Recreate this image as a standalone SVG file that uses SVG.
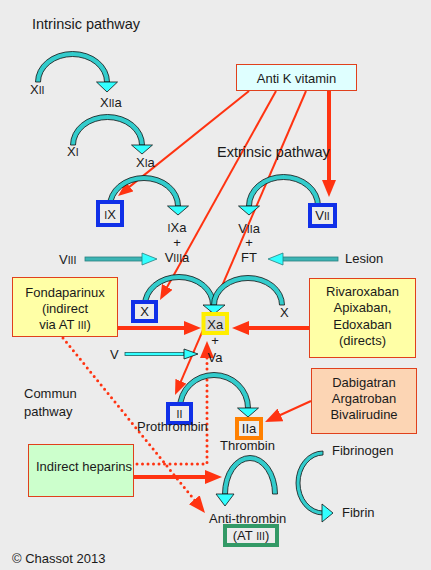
<svg xmlns="http://www.w3.org/2000/svg" width="431" height="570" viewBox="0 0 431 570">
<defs>
<style>
text{font-family:"Liberation Sans",Arial,sans-serif;font-size:13px;fill:#1a1a1a}
.h{font-size:14.5px}
.s{font-size:10.5px}
.c{text-anchor:middle}
.band{fill:#33cccc;stroke:#111;stroke-width:0.8}
.head{fill:#33ffff;stroke:#111;stroke-width:0.8}
.red{fill:none;stroke:#ff3311;stroke-width:2}
.redT{fill:none;stroke:#ff3311;stroke-width:4}
.dot{fill:none;stroke:#ff3311;stroke-width:3;stroke-linecap:round;stroke-dasharray:0 5.5}
.drug{stroke:#e0401c;stroke-width:1}
.fac{fill:#ececec;stroke-width:4}
.teal{fill:#3cb4b4;stroke:#2a8080;stroke-width:0.8}
.thead{fill:#33ffff;stroke:#2a8080;stroke-width:0.8}
</style>
<marker id="ah" markerUnits="userSpaceOnUse" markerWidth="15" markerHeight="12" viewBox="0 0 15 12" refX="10" refY="6" orient="auto"><path d="M0,0 L15,6 L0,12 Z" fill="#ff3311"/></marker>
<marker id="ahT" markerUnits="userSpaceOnUse" markerWidth="17" markerHeight="14" viewBox="0 0 17 14" refX="11" refY="7" orient="auto"><path d="M0,0 L17,7 L0,14 Z" fill="#ff3311"/></marker>
</defs>
<rect x="0" y="0" width="431" height="570" fill="#ececec"/>

<g id="connectors">
  <!-- red inhibition lines -->
  <line class="red" x1="249" y1="91" x2="121.9" y2="192.9" marker-end="url(#ah)"/>
  <line class="red" x1="276" y1="91" x2="162.4" y2="295.6" marker-end="url(#ah)"/>
  <line class="red" x1="306" y1="91" x2="177" y2="390.4" marker-end="url(#ah)"/>
  <line class="redT" stroke-width="3.5" x1="329" y1="91" x2="329" y2="191" marker-end="url(#ahT)"/>
  <line class="redT" x1="118" y1="328" x2="195" y2="328" marker-end="url(#ahT)"/>
  <line class="redT" x1="309" y1="328" x2="238" y2="328" marker-end="url(#ahT)"/>
  <line class="redT" x1="134" y1="477" x2="216" y2="477" marker-end="url(#ahT)"/>
  <line class="red" stroke-width="2.5" x1="311" y1="401" x2="270.5" y2="419.5" marker-end="url(#ahT)"/>
  <path class="dot" d="M137,464 H207 V347" marker-end="url(#ahT)"/>
  <path class="dot" d="M63,338 L201.2,508.3" marker-end="url(#ahT)"/>

  <!-- teal straight arrows -->
  <rect class="teal" x="85" y="257" width="58" height="4"/>
  <polygon class="thead" points="142,253 142,265 157,259"/>
  <rect class="teal" x="282" y="257" width="56" height="4"/>
  <polygon class="thead" points="283,253 283,265 268,259"/>
  <rect x="125" y="352.5" width="59" height="3" fill="#33ffff" stroke="#1d5f5f" stroke-width="0.8"/>
  <polygon class="head" points="184,349 184,359 198,354"/>

  <!-- activation arcs -->
  <path class="band" d="M35.5,82 A37,30.5 0 0 1 109.5,82 L104.5,82 A32,25.5 0 0 0 40.5,82 Z"/>
  <polygon class="head" points="96.5,82 117.5,82 107,92"/>
  <path class="band" d="M70.5,145 A37,30.5 0 0 1 144.5,145 L139.5,145 A32,25.5 0 0 0 75.5,145 Z"/>
  <polygon class="head" points="131.5,145 152.5,145 142,154"/>
  <path class="band" d="M107.5,206 A36.5,30.5 0 0 1 180.5,206 L175.5,206 A31.5,25.5 0 0 0 112.5,206 Z"/>
  <polygon class="head" points="167.5,206 188.5,206 178,215"/>
  <path class="band" d="M246.5,206 A37,31.5 0 0 1 320.5,206 L315.5,206 A32,26.5 0 0 0 251.5,206 Z"/>
  <polygon class="head" points="238.5,206 259.5,206 249,215"/>
  <path class="band" d="M142.5,305 A36.5,30.5 0 0 1 215.5,305 L210.5,305 A31.5,25.5 0 0 0 147.5,305 Z"/>
  <path class="band" d="M211.5,305 A36.5,29.5 0 0 1 284.5,305 L279.5,305 A31.5,24.5 0 0 0 216.5,305 Z"/>
  <polygon class="head" points="203,305 225,305 214,314"/>
  <path class="band" d="M177.5,408 A36.5,35.5 0 0 1 250.5,408 L245.5,408 A31.5,30.5 0 0 0 182.5,408 Z"/>
  <polygon class="head" points="237.5,408 258.5,408 248,417"/>
  <path class="band" d="M222.5,494 A27.5,38.5 0 0 1 277.5,494 L272.5,494 A22.5,33.5 0 0 0 227.5,494 Z"/>
  <polygon class="head" points="216,494 234,494 225,506"/>
  <path class="band" d="M323,451 A27,32 0 0 0 323,515 L323,511 A23,28 0 0 1 323,455 Z"/>
  <polygon class="head" points="322,504 322,522 333,513"/>
</g>

<g id="title-intrinsic"><text class="h" x="32" y="29">Intrinsic pathway</text></g>
<g id="title-extrinsic"><text class="h" x="217" y="157">Extrinsic pathway</text></g>
<g id="title-commun"><text font-size="14" x="24" y="398">Commun</text><text font-size="14" x="24" y="416">pathway</text></g>

<g id="node-antik">
  <rect class="drug" x="236.5" y="64.5" width="120" height="26" fill="#dfffff"/>
  <text class="c" x="296.5" y="83">Anti K vitamin</text>
</g>
<g id="node-XII"><text x="30" y="94">X<tspan class="s">II</tspan></text></g>
<g id="node-XIIa"><text x="100" y="107">X<tspan class="s">II</tspan>a</text></g>
<g id="node-XI"><text x="67" y="156">X<tspan class="s">I</tspan></text></g>
<g id="node-XIa"><text x="136" y="167">X<tspan class="s">I</tspan>a</text></g>
<g id="node-IX">
  <rect class="fac" x="98" y="202" width="24" height="23" stroke="#1030e8"/>
  <text class="c" x="110" y="219"><tspan class="s">I</tspan>X</text>
</g>
<g id="node-IXa-VIIIa">
  <text class="c" x="177" y="232"><tspan class="s">I</tspan>Xa</text>
  <text class="c" x="177" y="247">+</text>
  <text class="c" x="177" y="262">V<tspan class="s">III</tspan>a</text>
</g>
<g id="node-VIIa-FT">
  <text class="c" x="249" y="233">V<tspan class="s">II</tspan>a</text>
  <text class="c" x="249" y="247">+</text>
  <text class="c" x="249" y="262">FT</text>
</g>
<g id="node-VII">
  <rect class="fac" x="310" y="205" width="25" height="21" stroke="#1030e8"/>
  <text class="c" x="322.5" y="220">V<tspan class="s">II</tspan></text>
</g>
<g id="node-VIII"><text x="59" y="264">V<tspan class="s">III</tspan></text></g>
<g id="node-lesion"><text x="345" y="263">Lesion</text></g>
<g id="node-fondaparinux">
  <rect class="drug" x="12.5" y="277.5" width="105" height="59" fill="#ffffa6"/>
  <text class="c" x="65" y="297">Fondaparinux</text>
  <text class="c" x="65" y="313">(indirect</text>
  <text class="c" x="65" y="329">via AT <tspan class="s">III</tspan>)</text>
</g>
<g id="node-X">
  <rect class="fac" x="133" y="302" width="23" height="19" stroke="#1030e8"/>
  <text class="c" x="144.5" y="316">X</text>
</g>
<g id="node-Xa">
  <rect x="203.5" y="314" width="23.5" height="19" fill="#d9d9d9" stroke="#ffee00" stroke-width="4"/>
  <text class="c" x="215.3" y="328.5">Xa</text>
  <text class="c" x="215" y="345">+</text>
  <text class="c" x="215" y="362">Va</text>
</g>
<g id="node-X-right"><text x="280" y="317">X</text></g>
<g id="node-V"><text x="110" y="359">V</text></g>
<g id="node-rivaroxaban">
  <rect class="drug" x="309.5" y="278.5" width="106" height="79" fill="#ffffa6"/>
  <text class="c" x="362.5" y="296">Rivaroxaban</text>
  <text class="c" x="362.5" y="312">Apixaban,</text>
  <text class="c" x="362.5" y="329">Edoxaban</text>
  <text class="c" x="362.5" y="345">(directs)</text>
</g>
<g id="node-dabigatran">
  <rect class="drug" x="311.5" y="368.5" width="105" height="65" fill="#fcd5b4"/>
  <text class="c" x="364" y="387">Dabigatran</text>
  <text class="c" x="364" y="403">Argatroban</text>
  <text class="c" x="364" y="419">Bivalirudine</text>
</g>
<g id="node-II">
  <rect class="fac" x="168" y="404" width="23" height="19" stroke="#1030e8"/>
  <text class="c" x="179.5" y="418"><tspan class="s">II</tspan></text>
  <text x="137" y="431">Prothrombin</text>
</g>
<g id="node-IIa">
  <rect class="fac" x="237" y="419" width="24" height="19" stroke="#ff8000"/>
  <text class="c" x="249" y="433">IIa</text>
  <text x="220" y="450">Thrombin</text>
</g>
<g id="node-heparins">
  <rect class="drug" x="28.5" y="444.5" width="105" height="52" fill="#ccffcc"/>
  <text class="c" x="84" y="471">Indirect heparins</text>
</g>
<g id="node-fibrinogen"><text x="332" y="455">Fibrinogen</text></g>
<g id="node-fibrin"><text x="342" y="517">Fibrin</text></g>
<g id="node-antithrombin">
  <text x="209" y="523">Anti-thrombin</text>
  <rect class="fac" x="225" y="526" width="52" height="19" stroke="#339966"/>
  <text class="c" x="251" y="540">(AT <tspan class="s">III</tspan>)</text>
</g>
<g id="credit"><text font-size="9" x="12" y="563">© Chassot 2013</text></g>
</svg>
